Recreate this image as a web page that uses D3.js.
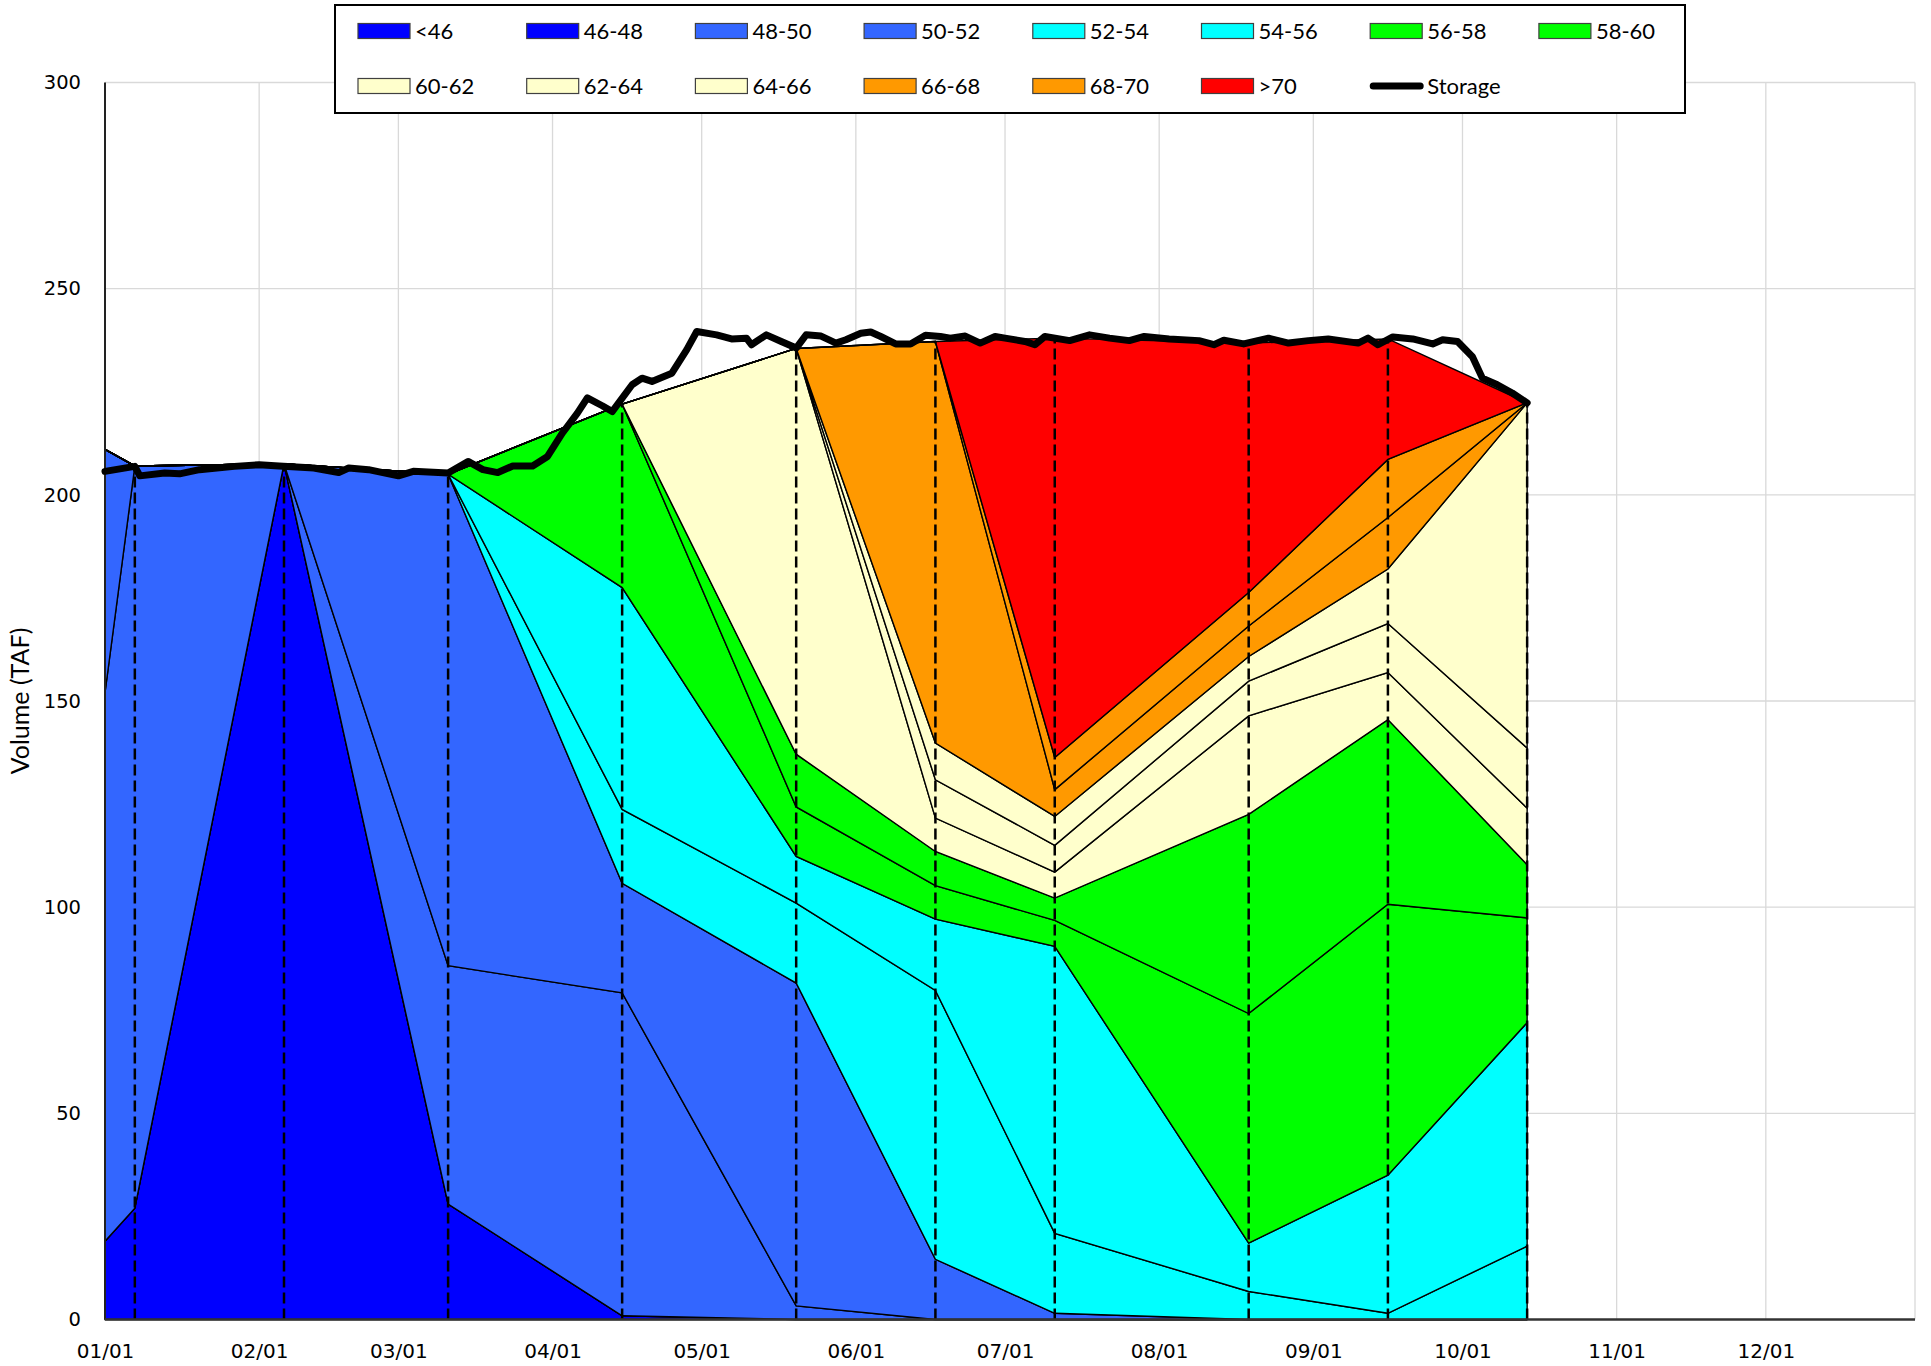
<!DOCTYPE html>
<html><head><meta charset="utf-8">
<script src="https://cdn.jsdelivr.net/npm/d3@7"></script>
<style>body{margin:0;background:#fff} svg{display:block}</style>
</head><body>
<svg id="chart" width="1931" height="1366"></svg>
<script>
// ---------- DATA ----------
const binNames = ["<46","46-48","48-50","50-52","52-54","54-56","56-58","58-60","60-62","62-64","64-66","66-68","68-70",">70"];
const binColors = ["#0000FF","#0000FF","#3366FF","#3366FF","#00FFFF","#00FFFF","#00FF00","#00FF00","#FFFFCC","#FFFFCC","#FFFFCC","#FF9900","#FF9900","#FF0000"];
const profileDates = ["2021-01-01","2021-01-07","2021-02-06","2021-03-11","2021-04-15","2021-05-20","2021-06-17","2021-07-11","2021-08-19","2021-09-16","2021-10-14"];
// volume (TAF) in each temperature bin at each profile date
const vLt46  = [19, 27, 207.5, 28, 0.9, 0, 0, 0, 0, 0, 0];
const v46_48 = [0, 0, 0, 0, 0, 0, 0, 0, 0, 0, 0];
const v48_50 = [133, 180, 0, 57.8, 78.3, 3.3, 0, 0, 0, 0, 0];
const v50_52 = [59, 0, 0, 119.2, 26.6, 78.3, 14.6, 1.5, 0, 0, 0];
const v52_54 = [0, 0, 0, 0, 17.9, 19.4, 65.2, 19.4, 6.8, 1.5, 17.8];
const v54_56 = [0, 0, 0, 0, 53.8, 11.3, 17.3, 69.6, 11.7, 33.5, 54.2];
const v56_58 = [0, 0, 0, 0, 44.5, 12, 8.1, 6.3, 55.7, 65.7, 25.4];
const v58_60 = [0, 0, 0, 0, 0, 12.8, 8.3, 5.4, 48.3, 44.8, 12.9];
const v60_62 = [0, 0, 0, 0, 0, 98.4, 8.1, 6.3, 23.9, 11.4, 13.7];
const v62_64 = [0, 0, 0, 0, 0, 0, 9.3, 6.5, 8.4, 11.9, 14.6];
const v64_66 = [0, 0, 0, 0, 0, 0, 8.9, 7, 6, 13.2, 83.7];
const v66_68 = [0, 0, 0, 0, 0, 0, 97.4, 6.5, 7.4, 12.5, 0];
const v68_70 = [0, 0, 0, 0, 0, 0, 0, 7.8, 8.1, 14.1, 0];
const vGt70  = [0, 0, 0, 0, 0, 0, 0, 101.7, 60.5, 29.2, 0];

const storageDates = ["01-01","01-07","01-08","01-13","01-16","01-20","01-27","02-01","02-05","02-12","02-17","02-19","02-23","03-01","03-04","03-08","03-11","03-15","03-18","03-21","03-24","03-28","03-31","04-03","04-06","04-08","04-11","04-13","04-17","04-19","04-21","04-25","04-28","04-30","05-04","05-07","05-10","05-11","05-14","05-17","05-20","05-22","05-25","05-28","05-30","06-02","06-04","06-06","06-09","06-12","06-15","06-18","06-20","06-23","06-26","06-29","07-01","07-05","07-07","07-09","07-14","07-18","07-22","07-26","07-29","08-03","08-09","08-12","08-14","08-18","08-23","08-27","08-31","09-04","09-10","09-12","09-14","09-17","09-21","09-25","09-27","09-30","10-03","10-05","10-08","10-11","10-14"];
const storageTaf = [205.7,206.9,204.6,205.3,205.1,206.1,206.9,207.3,207.0,206.5,205.4,206.5,206.1,204.6,205.7,205.5,205.3,208.1,206.1,205.4,207.0,207.0,209.3,215.0,219.8,223.5,221.6,220.2,226.7,228.3,227.5,229.5,235.2,239.6,238.8,237.8,238.0,236.4,238.8,237.2,235.6,238.8,238.5,236.8,237.6,239.2,239.5,238.4,236.6,236.6,238.7,238.4,238.0,238.5,236.8,238.4,238.0,237.2,236.4,238.4,237.4,238.8,238.0,237.4,238.4,237.8,237.4,236.4,237.5,236.6,238.0,236.8,237.4,237.8,236.8,238.0,236.4,238.3,237.8,236.6,237.6,237.2,233.5,228.3,226.7,224.7,222.3];

const yTicks = [0, 50, 100, 150, 200, 250, 300];
const xTickLabels = ["01/01","02/01","03/01","04/01","05/01","06/01","07/01","08/01","09/01","10/01","11/01","12/01"];
const yearStr = "2021";

// ---------- BUILD ----------
const parse = d3.timeParse("%Y-%m-%d");
const binValues = [vLt46, v46_48, v48_50, v50_52, v52_54, v54_56, v56_58, v58_60, v60_62, v62_64, v64_66, v66_68, v68_70, vGt70];
const table = profileDates.map((d, i) => {
  const row = { date: parse(d) };
  binNames.forEach((b, k) => row[b] = binValues[k][i]);
  return row;
});
const storage = storageDates.map((d, i) => ({ date: parse(yearStr + "-" + d), v: storageTaf[i] }));

const svg = d3.select("#chart");
const x = d3.scaleTime().domain([parse("2021-01-01"), parse("2021-12-31")]).range([105, 1915]);
const y = d3.scaleLinear().domain([0, 300]).range([1319.5, 82.5]);

// gridlines
const gx = svg.append("g");
const monthStarts = xTickLabels.map(l => parse(yearStr + "-" + l.replace("/", "-")));
gx.selectAll("line.v").data(monthStarts.slice(1).concat([parse("2021-12-31")])).enter().append("line")
  .attr("x1", d => x(d)).attr("x2", d => x(d)).attr("y1", y(0)).attr("y2", y(300))
  .attr("stroke", "#d9d9d9").attr("stroke-width", 1.3);
gx.selectAll("line.h").data(yTicks.slice(1)).enter().append("line")
  .attr("x1", x.range()[0]).attr("x2", x.range()[1]).attr("y1", d => y(d)).attr("y2", d => y(d))
  .attr("stroke", "#d9d9d9").attr("stroke-width", 1.3);

// stacked areas
const stack = d3.stack().keys(binNames);
const series = stack(table);
const area = d3.area().x(d => x(d.data.date)).y0(d => y(d[0])).y1(d => y(d[1]));
svg.append("g").selectAll("path").data(series).enter().append("path")
  .attr("d", area)
  .attr("fill", (d, i) => binColors[i])
  .attr("stroke", "#000").attr("stroke-width", 1.4).attr("stroke-linejoin", "miter");

// dashed profile-date lines
const totals = table.map(r => binNames.reduce((s, b) => s + r[b], 0));
svg.append("g").selectAll("line").data(table.slice(1)).enter().append("line")
  .attr("x1", d => x(d.date)).attr("x2", d => x(d.date))
  .attr("y1", y(0)).attr("y2", (d, i) => y(totals[i + 1]))
  .attr("stroke", "#000").attr("stroke-width", 2.5).attr("stroke-dasharray", "11,5");

// axes lines
svg.append("line").attr("x1", x.range()[0]).attr("x2", x.range()[0]).attr("y1", y(0)).attr("y2", y(300))
  .attr("stroke", "#222").attr("stroke-width", 2);
svg.append("line").attr("x1", x.range()[0]).attr("x2", x.range()[1]).attr("y1", y(0)).attr("y2", y(0))
  .attr("stroke", "#333").attr("stroke-width", 2.5);

// storage line
const line = d3.line().x(d => x(d.date)).y(d => y(d.v));
svg.append("path").datum(storage).attr("d", line)
  .attr("fill", "none").attr("stroke", "#000").attr("stroke-width", 7)
  .attr("stroke-linejoin", "round").attr("stroke-linecap", "round");

// tick labels
const tickFont = "'DejaVu Sans', Verdana, sans-serif";
const yAxis = d3.axisLeft(y).tickValues(yTicks).tickSize(0).tickPadding(24).tickFormat(d3.format("d"));
const ya = svg.append("g").attr("transform", `translate(${x.range()[0]},0)`).call(yAxis);
ya.select(".domain").remove();
ya.selectAll("text").attr("font-family", tickFont).attr("font-size", 19.5).attr("fill", "#000");

const xAxis = d3.axisBottom(x).tickValues(monthStarts).tickSize(0).tickPadding(24)
  .tickFormat((d, i) => xTickLabels[i]);
const xa = svg.append("g").attr("transform", `translate(0,${y(0)})`).call(xAxis);
xa.select(".domain").remove();
xa.selectAll("text").attr("font-family", tickFont).attr("font-size", 20).attr("fill", "#000");

// y title
svg.append("text").attr("transform", "translate(29,701) rotate(-90)")
  .attr("text-anchor", "middle").attr("font-family", "Lato, 'Open Sans', sans-serif")
  .attr("font-size", 25).attr("fill", "#000").text("Volume (TAF)");

// legend
const lg = svg.append("g");
lg.append("rect").attr("x", 335).attr("y", 5).attr("width", 1350).attr("height", 108)
  .attr("fill", "#fff").attr("stroke", "#000").attr("stroke-width", 2);
const legendItems = binNames.map((b, i) => ({ name: b, color: binColors[i], type: "rect" }))
  .concat([{ name: "Storage", type: "line" }]);
const colW = 168.7, x0 = 358, rowY = [31, 86];
legendItems.forEach((it, i) => {
  const col = i % 8, row = Math.floor(i / 8);
  const gx0 = x0 + col * colW, cy = rowY[row];
  if (it.type === "rect") {
    lg.append("rect").attr("x", gx0).attr("y", cy - 7.5).attr("width", 52).attr("height", 15)
      .attr("fill", it.color).attr("stroke", "#404040").attr("stroke-width", 1.2);
  } else {
    lg.append("line").attr("x1", gx0 + 3).attr("x2", gx0 + 50).attr("y1", cy).attr("y2", cy)
      .attr("stroke", "#000").attr("stroke-width", 7).attr("stroke-linecap", "round");
  }
  lg.append("text").attr("x", gx0 + 57).attr("y", cy).attr("dy", "0.35em")
    .attr("font-family", "Lato, 'Open Sans', sans-serif").attr("font-size", 22).attr("fill", "#000")
    .text(it.name);
});
</script>
</body></html>
